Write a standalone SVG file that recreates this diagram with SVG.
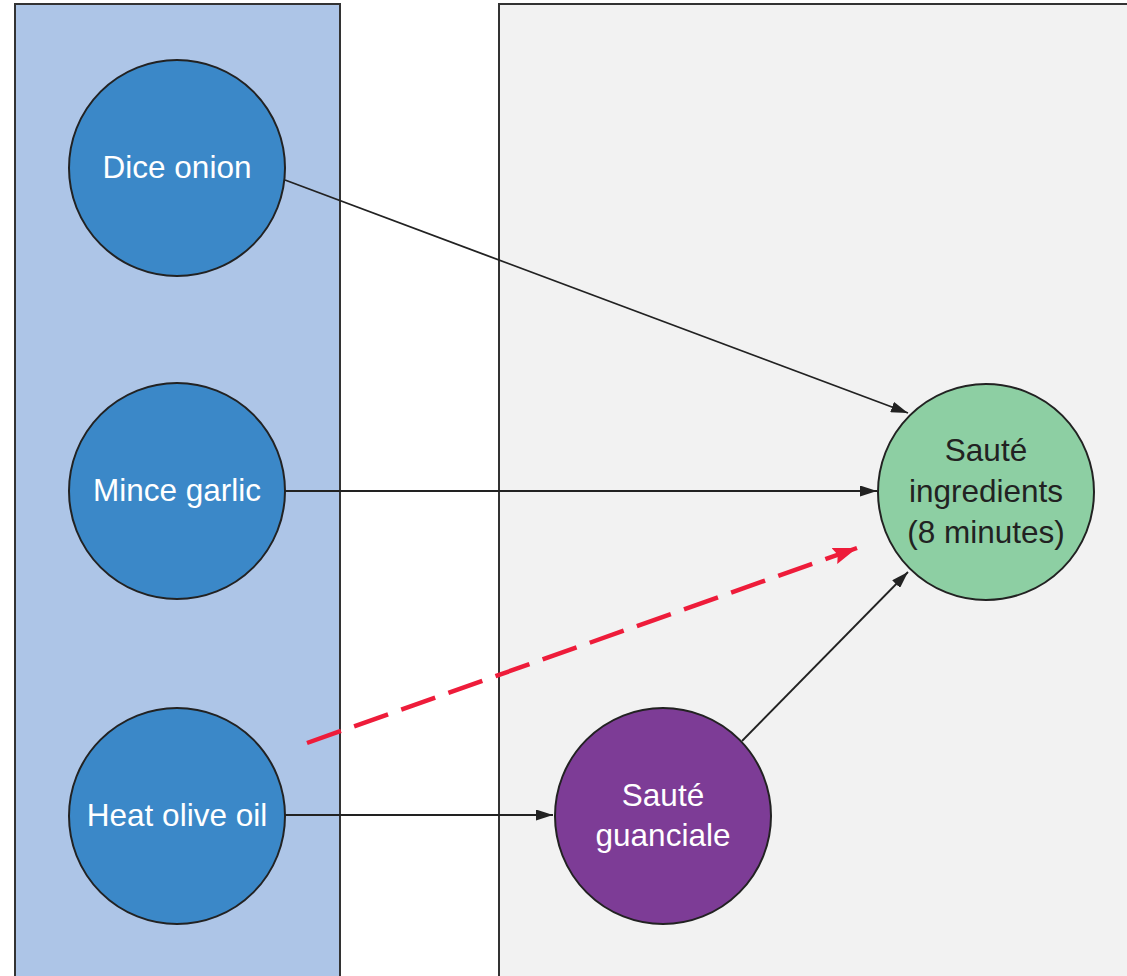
<svg xmlns="http://www.w3.org/2000/svg" width="1127" height="976" viewBox="0 0 1127 976">
<style>
.panel{stroke:#333;stroke-width:2}
.node{stroke:#222;stroke-width:2}
.lbl{font-family:"Liberation Sans",Arial,sans-serif;font-size:31.5px;text-anchor:middle}
.w{fill:#fff}
.d{fill:#222}
.edge{stroke:#222;stroke-width:1.8;fill:none}
.red{stroke:#ee1c3a;stroke-width:4.5;fill:none;stroke-dasharray:36 14}
</style>
<defs>
<marker id="ah" viewBox="0 0 10 10" preserveAspectRatio="none" refX="10" refY="5" markerWidth="17" markerHeight="11" markerUnits="userSpaceOnUse" orient="auto"><path d="M0,0L10,5L0,10z" fill="#222"/></marker>
<marker id="ahr" viewBox="0 0 10 10" preserveAspectRatio="none" refX="10" refY="5" markerWidth="24" markerHeight="17" markerUnits="userSpaceOnUse" orient="auto"><path d="M0,0L10,5L0,10L1.5,5z" fill="#ee1c3a"/></marker>
</defs>
<rect width="1127" height="976" fill="#fff"/>
<g id="panels">
<rect class="panel" x="15" y="4" width="325" height="990" fill="#adc5e7"/>
<rect class="panel" x="499" y="4" width="650" height="990" fill="#f2f2f2"/>
</g>
<g id="connectors">
<line class="edge" x1="285" y1="180" x2="908" y2="413" marker-end="url(#ah)"/>
<line class="edge" x1="285" y1="491" x2="877" y2="491" marker-end="url(#ah)"/>
<line class="edge" x1="285" y1="815" x2="553" y2="815" marker-end="url(#ah)"/>
<line class="edge" x1="742" y1="741" x2="908" y2="572" marker-end="url(#ah)"/>
<line class="red" x1="307" y1="743" x2="857" y2="548" marker-end="url(#ahr)"/>
</g>
<g id="dice-onion">
<circle class="node" cx="177" cy="168" r="108" fill="#3b88c8"/>
<text class="lbl w" x="177" y="178">Dice onion</text>
</g>
<g id="mince-garlic">
<circle class="node" cx="177" cy="491" r="108" fill="#3b88c8"/>
<text class="lbl w" x="177" y="501">Mince garlic</text>
</g>
<g id="heat-olive-oil">
<circle class="node" cx="177" cy="816" r="108" fill="#3b88c8"/>
<text class="lbl w" x="177" y="826">Heat olive oil</text>
</g>
<g id="saute-guanciale">
<circle class="node" cx="663" cy="816" r="108" fill="#7d3c96"/>
<text class="lbl w" x="663" y="806">Sauté</text>
<text class="lbl w" x="663" y="846">guanciale</text>
</g>
<g id="saute-ingredients">
<circle class="node" cx="986" cy="492" r="108" fill="#8dcfa3"/>
<text class="lbl d" x="986" y="461">Sauté</text>
<text class="lbl d" x="986" y="502">ingredients</text>
<text class="lbl d" x="986" y="543">(8 minutes)</text>
</g>
</svg>
